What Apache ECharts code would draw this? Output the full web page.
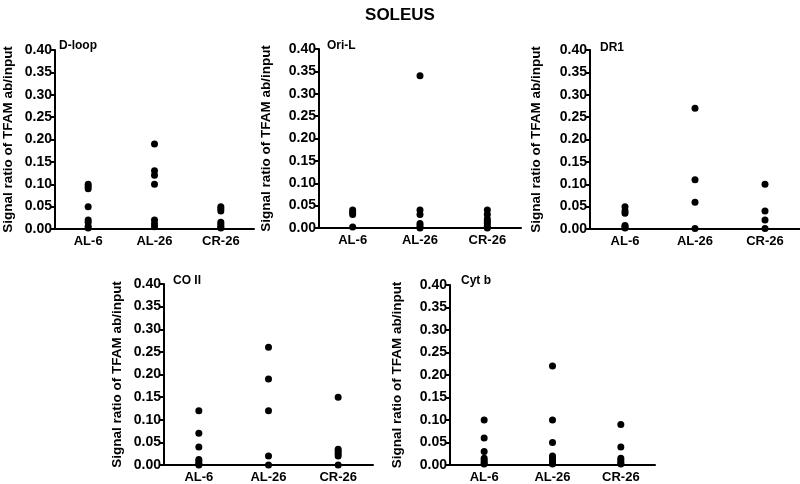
<!DOCTYPE html>
<html><head><meta charset="utf-8">
<script src="https://cdn.jsdelivr.net/npm/echarts@6/dist/echarts.min.js"></script>
<style>html,body{margin:0;padding:0;background:#fff}#c{width:800px;height:484px}</style>
</head><body><div id="c"></div>
<script>
const categories = ['AL-6', 'AL-26', 'CR-26'];
const yTicks = [0, 0.05, 0.10, 0.15, 0.20, 0.25, 0.30, 0.35, 0.40];
const panelNames = ['D-loop', 'Ori-L', 'DR1', 'CO II', 'Cyt b'];
// values per group: AL-6, AL-26, CR-26
const dloop = [
  [0.10, 0.095, 0.09, 0.05, 0.02, 0.015, 0.006, 0.002],
  [0.19, 0.13, 0.12, 0.10, 0.02, 0.012, 0.005],
  [0.05, 0.045, 0.04, 0.015, 0.01, 0.005, 0.002]
];
const oriL = [
  [0.04, 0.035, 0.03, 0.002],
  [0.34, 0.04, 0.03, 0.01, 0.005, 0.0],
  [0.04, 0.03, 0.02, 0.015, 0.01, 0.004, 0.0]
];
const dr1 = [
  [0.05, 0.04, 0.035, 0.008, 0.005, 0.002],
  [0.27, 0.11, 0.06, 0.001],
  [0.10, 0.04, 0.02, 0.001]
];
const coII = [
  [0.12, 0.07, 0.04, 0.012, 0.008, 0.003, 0.0],
  [0.26, 0.19, 0.12, 0.02, 0.0],
  [0.15, 0.035, 0.03, 0.025, 0.02, 0.0]
];
const cytB = [
  [0.10, 0.06, 0.03, 0.015, 0.01, 0.005, 0.002],
  [0.22, 0.10, 0.05, 0.02, 0.015, 0.01, 0.005, 0.002],
  [0.09, 0.04, 0.015, 0.01, 0.005, 0.002]
];
const panelData = [dloop, oriL, dr1, coII, cytB];

const grids = [
  {left: 49, top: 50, width: 205, height: 179, nameGap: 40, tx: 54, ty: 35},
  {left: 319, top: 49, width: 202, height: 179, nameGap: 46, tx: 322, ty: 35},
  {left: 590, top: 50, width: 210, height: 179, nameGap: 47, tx: 595, ty: 37},
  {left: 164, top: 284, width: 209, height: 183, nameGap: 40, tx: 168, ty: 270},
  {left: 450, top: 285, width: 205, height: 182, nameGap: 46, tx: 456, ty: 270}
];
const font = 'Liberation Sans, Arial, sans-serif';
const option = {
  animation: false,
  backgroundColor: '#fff',
  title: [{text: 'SOLEUS', left: 'center', top: 2, textStyle: {fontFamily: font, fontWeight: 'bold', fontSize: 17, color: '#000'}}]
    .concat(grids.map((g, i) => ({text: panelNames[i], left: g.tx, top: g.ty, textStyle: {fontFamily: font, fontWeight: 'bold', fontSize: 12, color: '#000'}}))),
  grid: grids.map(g => ({left: g.left, top: g.top, width: g.width, height: g.height, containLabel: false})),
  xAxis: grids.map((g, i) => ({
    gridIndex: i, type: 'category', data: categories, boundaryGap: true,
    axisLine: {lineStyle: {color: '#000', width: 2}}, axisTick: {show: false},
    axisLabel: {color: '#000', fontFamily: font, fontWeight: 'bold', fontSize: 13, margin: 6}
  })),
  yAxis: grids.map((g, i) => ({
    gridIndex: i, type: 'value', min: yTicks[0], max: yTicks[yTicks.length - 1], interval: 0.05,
    name: 'Signal ratio of TFAM ab/input', nameLocation: 'middle', nameGap: g.nameGap, nameRotate: 90,
    nameTextStyle: {color: '#000', fontFamily: font, fontWeight: 'bold', fontSize: 13.5},
    axisLine: {show: true, lineStyle: {color: '#000', width: 2}},
    axisTick: {show: true, length: 4, lineStyle: {color: '#000', width: 2}},
    splitLine: {show: false},
    axisLabel: {color: '#000', fontFamily: font, fontWeight: 'bold', fontSize: 14, margin: 3, formatter: v => v.toFixed(2)}
  })),
  series: panelData.map((pd, i) => ({
    type: 'scatter', xAxisIndex: i, yAxisIndex: i, symbol: 'circle', symbolSize: 7,
    itemStyle: {color: '#000', opacity: 1},
    data: pd.flatMap((vals, ci) => vals.map(v => [categories[ci], v]))
  }))
};
echarts.init(document.getElementById('c'), null, {renderer: 'canvas'}).setOption(option);
</script></body></html>
